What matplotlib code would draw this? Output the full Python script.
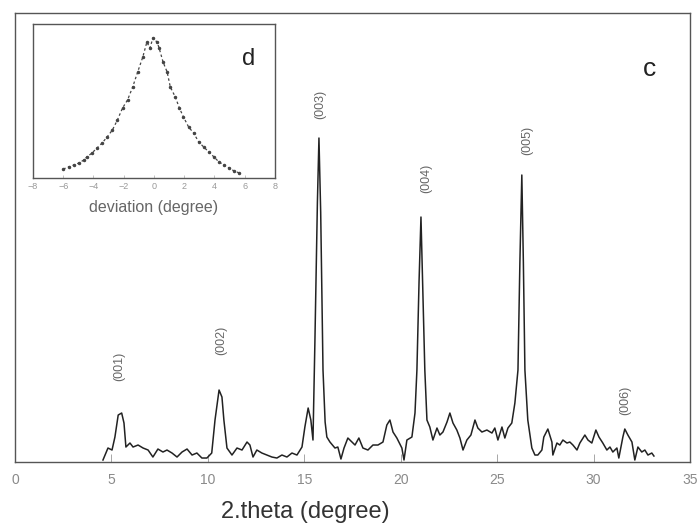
# XRD pattern with rocking-curve inset

import numpy as np
import matplotlib.pyplot as plt

plt.rcParams['font.family'] = ['Liberation Sans', 'DejaVu Sans']

#==========================================================
# main trace: 2.theta (degree) vs intensity (arb. units)
#==========================================================
two_theta = [4.56, 4.82, 5.03, 5.18, 5.35, 5.53, 5.65, 5.75, 5.96, 6.12,
             6.38, 6.64, 6.90, 7.15, 7.41, 7.67, 7.88, 8.14, 8.40, 8.66,
             8.92, 9.18, 9.43, 9.69, 9.95, 10.20, 10.37, 10.58, 10.73, 10.83,
             10.99, 11.25, 11.51, 11.77, 12.03, 12.18, 12.34, 12.54, 12.80, 13.06,
             13.32, 13.58, 13.84, 14.10, 14.36, 14.62, 14.88, 15.03, 15.20, 15.34,
             15.45, 15.55, 15.68, 15.76, 15.85, 15.97, 16.08, 16.17, 16.33, 16.59,
             16.74, 16.90, 17.06, 17.26, 17.47, 17.63, 17.83, 18.04, 18.30, 18.56,
             18.82, 19.08, 19.28, 19.44, 19.60, 19.80, 20.06, 20.17, 20.32, 20.58,
             20.74, 20.84, 20.95, 21.05, 21.15, 21.25, 21.36, 21.51, 21.67, 21.88,
             22.03, 22.19, 22.40, 22.55, 22.71, 22.91, 23.07, 23.23, 23.43, 23.64,
             23.85, 24.00, 24.21, 24.47, 24.73, 24.88, 25.04, 25.25, 25.40, 25.56,
             25.76, 25.92, 26.08, 26.18, 26.28, 26.36, 26.44, 26.59, 26.80, 26.96,
             27.11, 27.32, 27.42, 27.63, 27.84, 27.89, 28.10, 28.25, 28.41, 28.62,
             28.77, 28.93, 29.14, 29.29, 29.55, 29.71, 29.91, 30.12, 30.28, 30.48,
             30.69, 30.85, 31.00, 31.21, 31.31, 31.52, 31.62, 31.78, 31.99, 32.14,
             32.30, 32.50, 32.66, 32.82, 33.02, 33.13]
intensity = [2, 14, 12, 25, 47, 49, 39, 15, 19, 15,
             17, 14, 12, 5, 13, 10, 12, 9, 5, 10,
             13, 7, 9, 4, 4, 9, 42, 72, 65, 42,
             14, 7, 14, 12, 20, 17, 5, 12, 9, 7,
             5, 4, 7, 5, 9, 7, 15, 35, 54, 42,
             22, 120, 260, 324, 250, 92, 40, 25, 20, 14,
             15, 3, 14, 24, 20, 17, 24, 14, 12, 17,
             17, 20, 37, 42, 30, 24, 14, 2, 22, 25,
             49, 92, 180, 245, 170, 92, 42, 35, 22, 34,
             27, 30, 40, 49, 39, 32, 24, 12, 22, 27,
             42, 34, 30, 32, 29, 34, 22, 35, 24, 34,
             39, 59, 92, 200, 287, 200, 92, 42, 14, 7,
             7, 12, 25, 33, 20, 7, 19, 17, 22, 19,
             20, 17, 12, 19, 27, 22, 19, 32, 25, 19,
             12, 15, 10, 14, 4, 25, 33, 27, 20, 2,
             15, 10, 12, 7, 9, 6]

peak_names = ['(001)', '(002)', '(003)', '(004)', '(005)', '(006)']
peak_x = [5.39, 10.68, 15.81, 21.31, 26.54, 31.62]
peak_y = [96, 122, 358, 284, 322, 62]

#==========================================================
# inset: deviation (degree) vs intensity
#==========================================================
deviation = [-6.00, -5.65, -5.30, -4.97, -4.64, -4.44, -4.10, -3.77, -3.43, -3.10,
             -2.75, -2.42, -2.08, -1.75, -1.41, -1.08, -0.74, -0.47, -0.27, -0.07,
             0.20, 0.34, 0.60, 0.87, 1.08, 1.41, 1.68, 1.95, 2.29, 2.62,
             2.96, 3.29, 3.63, 3.97, 4.30, 4.64, 4.97, 5.30, 5.65]
dev_int = [9, 11, 13, 15, 18, 21, 25, 30, 35, 41,
           48, 58, 70, 78, 91, 106, 121, 136, 130, 140,
           136, 130, 116, 106, 91, 81, 70, 61, 51, 45,
           36, 31, 26, 21, 16, 13, 10, 7, 5]

#==========================================================
# plot
#==========================================================
fig = plt.figure(figsize=(6.99, 5.27), dpi=100)
ax = fig.add_axes([0.0215, 0.1233, 0.9656, 0.852])

ax.plot(two_theta, intensity, color='#222222', linewidth=1.1)
for name, xx, yy in zip(peak_names, peak_x, peak_y):
    ax.text(xx, yy, name, rotation=90, ha='center', va='center', fontsize=9, color='#666666')

ax.set_xlim(0, 35)
ax.set_ylim(0, 449)
ax.set_xticks([0, 5, 10, 15, 20, 25, 30, 35])
ax.set_yticks([])
ax.tick_params(axis='x', direction='in', length=6, width=0.6, color='#999999',
               labelsize=10, labelcolor='#8a8a8a', pad=8)
for s in ax.spines.values():
    s.set_color('#555555')
    s.set_linewidth(1.0)

ax.text(0.94, 0.875, 'c', transform=ax.transAxes, fontsize=19, ha='center', va='center', color='#222222')
fig.text(305/699, 1-512/527, '2.theta (degree)', fontsize=17, ha='center', va='center', color='#333333')

# inset
ins = fig.add_axes([0.0472, 0.6622, 0.3462, 0.2922])
ins.plot(deviation, dev_int, color='#444444', linestyle=(0, (2, 2)), linewidth=0.9,
         marker='.', markersize=3)
ins.set_xlim(-8, 8)
ins.set_ylim(0, 154)
ins.set_xticks(np.arange(-8, 9, 2))
ins.set_yticks([])
ins.tick_params(axis='x', direction='in', length=2, width=0.5, color='#aaaaaa',
                labelsize=6.5, labelcolor='#999999', pad=3)
for s in ins.spines.values():
    s.set_color('#555555')
    s.set_linewidth(1.0)
ins.set_xlabel('deviation (degree)', fontsize=11.5, color='#666666', labelpad=6)
ins.text(0.89, 0.77, 'd', transform=ins.transAxes, fontsize=17, ha='center', va='center', color='#222222')

plt.savefig('out.png', dpi=100)
plt.close()
